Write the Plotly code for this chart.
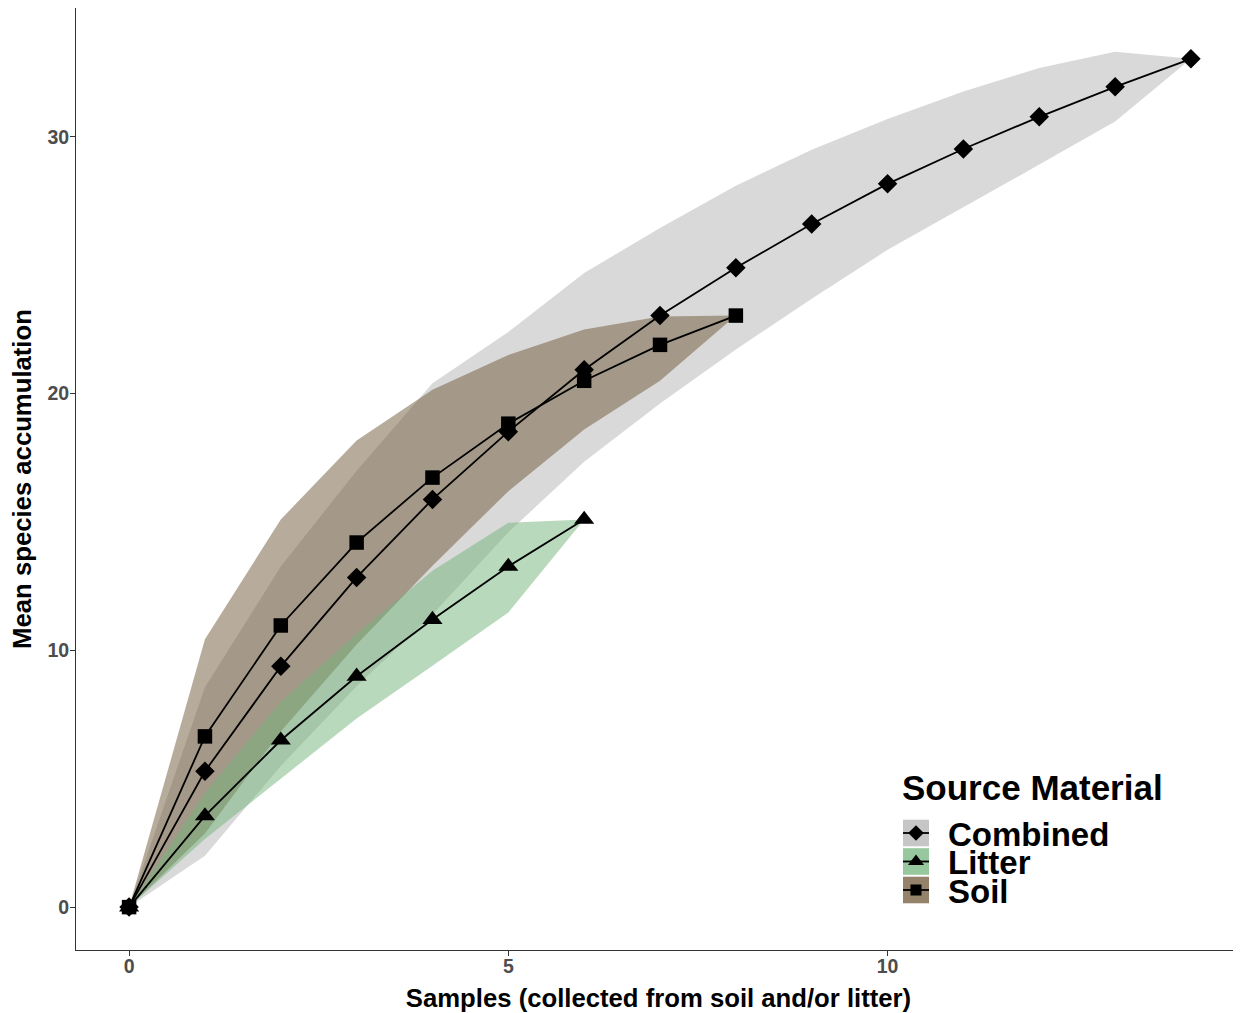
import plotly.graph_objects as go

# ---------------- data ----------------
samples_combined = list(range(15))
combined_mean = [0, 5.29, 9.38, 12.84, 15.88, 18.52, 20.93, 23.04, 24.90, 26.61, 28.17, 29.53, 30.78, 31.95, 33.04]
combined_upper = [0, 8.56, 13.27, 17.0, 20.4, 22.4, 24.7, 26.45, 28.1, 29.5, 30.7, 31.77, 32.68, 33.32, 33.04]
combined_lower = [0, 2.0, 5.5, 8.6, 11.4, 14.6, 17.35, 19.62, 21.72, 23.7, 25.6, 27.25, 28.92, 30.6, 33.04]

samples_litter = list(range(7))
litter_mean = [0, 3.55, 6.5, 8.99, 11.2, 13.27, 15.1]
litter_upper = [0, 4.45, 8.0, 10.65, 13.1, 14.97, 15.1]
litter_lower = [0, 2.65, 5.0, 7.35, 9.4, 11.48, 15.1]

samples_soil = list(range(9))
soil_mean = [0, 6.65, 10.97, 14.2, 16.73, 18.83, 20.5, 21.9, 23.04]
soil_upper = [0, 10.43, 15.1, 18.17, 20.15, 21.5, 22.5, 23.0, 23.04]
soil_lower = [0, 2.87, 6.84, 10.23, 13.3, 16.2, 18.6, 20.5, 23.04]

groups = ["Combined", "Litter", "Soil"]
x_ticks = [0, 5, 10]
y_ticks = [0, 10, 20, 30]
x_title = "Samples (collected from soil and/or litter)"
y_title = "Mean species accumulation"
legend_title = "Source Material"

# ---------------- styling ----------------
FONT = "Liberation Sans, Arial, Helvetica, sans-serif"
OFF = 8  # page body margin in the browser
# plot panel in screen pixels
P_LEFT, P_RIGHT, P_TOP, P_BOTTOM = 76, 1241, 8, 950
W = P_RIGHT - OFF
H = 1013 - OFF
ML, MR, MT = P_LEFT - OFF, 0, P_TOP - OFF
MB = H - (P_BOTTOM - OFF)

base_rgb = {"Combined": (179, 179, 179), "Litter": (116, 180, 123), "Soil": (112, 89, 57)}
symbols = {"Combined": "diamond", "Litter": "triangle-up", "Soil": "square"}
sizes = {"Combined": 15, "Litter": 17.5, "Soil": 14.5}
key_sizes = {"Combined": 12, "Litter": 14, "Soil": 11}

data = {
    "Combined": (samples_combined, combined_mean, combined_lower, combined_upper),
    "Litter": (samples_litter, litter_mean, litter_lower, litter_upper),
    "Soil": (samples_soil, soil_mean, soil_lower, soil_upper),
}

def rgba(rgb, a):
    return "rgba(%d,%d,%d,%.2f)" % (rgb[0], rgb[1], rgb[2], a)

fig = go.Figure()

# ribbons
for g in ["Combined", "Soil", "Litter"]:
    x, m, lo, hi = data[g]
    fig.add_trace(go.Scatter(
        x=list(x) + list(x)[::-1], y=list(hi) + list(lo)[::-1],
        fill="toself", fillcolor=rgba(base_rgb[g], 0.5), mode="lines",
        line=dict(width=0), hoverinfo="skip", showlegend=False))

# lines
for g in groups:
    x, m, lo, hi = data[g]
    fig.add_trace(go.Scatter(x=x, y=m, mode="lines",
                             line=dict(color="black", width=1.8),
                             showlegend=False, hoverinfo="skip"))
# points
for g in groups:
    x, m, lo, hi = data[g]
    fig.add_trace(go.Scatter(x=x, y=m, mode="markers", name=g,
                             marker=dict(symbol=symbols[g], size=sizes[g], color="black",
                                         line=dict(width=0)),
                             showlegend=False))

# ---------------- manual legend (screen-pixel helper axes) ----------------
key_x0, key_x1 = 903, 929
key_centers = [833, 861.5, 890]
key_half = 13.3
shapes = []
annotations = []
for g, cy in zip(groups, key_centers):
    r, gg, b = base_rgb[g]
    key_col = "rgb(%d,%d,%d)" % tuple(round(255 - 0.75 * (255 - c)) for c in (r, gg, b))
    shapes.append(dict(type="rect", xref="x2", yref="y2", x0=key_x0, x1=key_x1,
                       y0=cy - key_half, y1=cy + key_half, fillcolor=key_col,
                       line=dict(width=0), layer="below"))
    shapes.append(dict(type="line", xref="x2", yref="y2", x0=key_x0, x1=key_x1,
                       y0=cy, y1=cy, line=dict(color="black", width=1.8), layer="below"))
    fig.add_trace(go.Scatter(x=[(key_x0 + key_x1) / 2], y=[cy], xaxis="x2", yaxis="y2",
                             mode="markers", showlegend=False, hoverinfo="skip",
                             marker=dict(symbol=symbols[g], size=key_sizes[g], color="black",
                                         line=dict(width=0))))
    annotations.append(dict(xref="x2", yref="y2", x=946, y=cy + 1, text=g, showarrow=False,
                            xanchor="left", yanchor="middle",
                            font=dict(family=FONT, size=33, color="black", weight="bold")))
annotations.append(dict(xref="x2", yref="y2", x=900, y=787, text=legend_title, showarrow=False,
                        xanchor="left", yanchor="middle",
                        font=dict(family=FONT, size=35, color="black", weight="bold")))

axis_common = dict(showgrid=False, zeroline=False, showline=True, linecolor="#333333",
                   linewidth=1, ticks="outside", ticklen=5, tickwidth=1, tickcolor="#333333",
                   tickfont=dict(family=FONT, size=19.5, color="#4d4d4d", weight="bold"))

fig.update_layout(
    width=W, height=H, autosize=False,
    margin=dict(l=ML, r=MR, t=MT, b=MB, pad=0),
    paper_bgcolor="white", plot_bgcolor="white",
    showlegend=False,
    xaxis=dict(range=[-0.7, 14.66], tickvals=x_ticks, mirror=True, ticklabelstandoff=-6,
               title=dict(text=x_title, standoff=12,
                          font=dict(family=FONT, size=25.7, color="black", weight="bold")),
               automargin=False, **axis_common),
    yaxis=dict(range=[-1.67, 35.02], tickvals=y_ticks, mirror=False, ticklabelstandoff=-3,
               title=dict(text=y_title, standoff=9,
                          font=dict(family=FONT, size=25.7, color="black", weight="bold")),
               automargin=False, **axis_common),
    xaxis2=dict(range=[P_LEFT, P_RIGHT], overlaying="x", anchor="y2", visible=False, fixedrange=True),
    yaxis2=dict(range=[P_BOTTOM, P_TOP], overlaying="y", anchor="x2", visible=False, fixedrange=True),
    shapes=shapes, annotations=annotations,
)

fig.write_html("out.html")
